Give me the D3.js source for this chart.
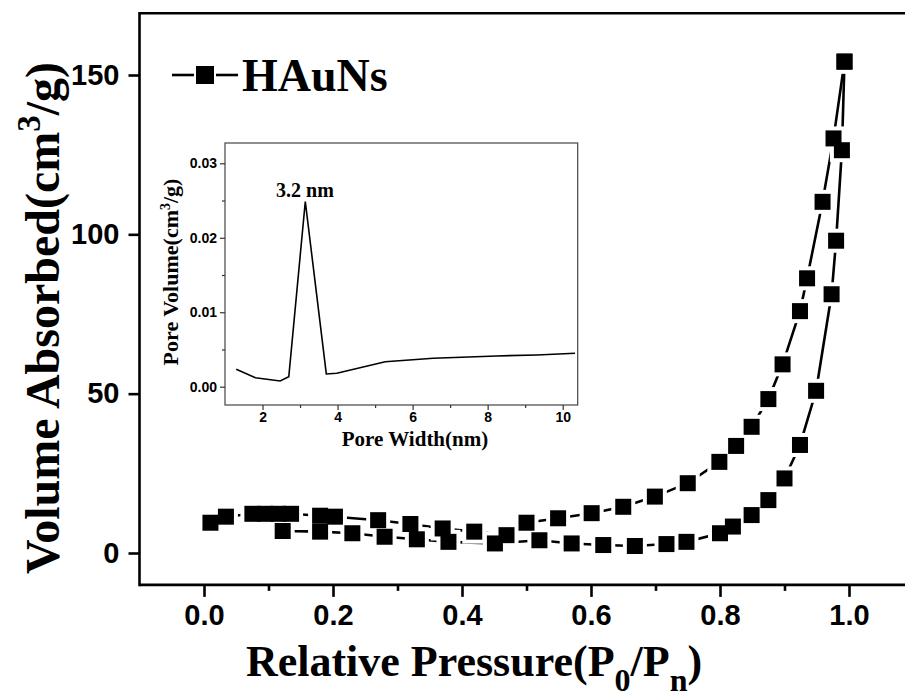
<!DOCTYPE html>
<html><head><meta charset="utf-8">
<script src="https://cdn.jsdelivr.net/npm/d3@7"></script>
<style>body{margin:0;background:#fff}</style>
</head><body>
<svg id="chart" width="905" height="699"></svg>
<script>
// ---------- data ----------
const seriesName = "HAuNs";
// adsorption branch (lower loop)
const adsP = [0.01,0.034,0.075,0.095,0.122,0.18,0.23,0.28,0.33,0.379,0.451,0.52,0.57,0.619,0.668,0.717,0.748,0.80,0.82,0.849,0.875,0.90,0.924,0.949,0.973,0.98,0.989,0.993];
const adsV = [9.5,11.4,12.3,12.3,6.9,6.7,6.2,5.1,4.3,3.5,3.0,4.0,3.0,2.5,2.2,2.8,3.5,6.2,8.3,11.9,16.6,23.4,33.9,50.9,81.2,98.0,126.4,154.2];
// desorption branch (upper loop)
const desP = [0.993,0.976,0.959,0.935,0.924,0.897,0.875,0.849,0.825,0.799,0.75,0.699,0.65,0.601,0.549,0.50,0.469,0.419,0.37,0.32,0.27,0.203,0.18,0.135,0.115];
const desV = [154.2,130.1,110.2,86.2,75.9,59.2,48.3,39.6,33.6,28.6,21.9,17.7,14.5,12.5,10.9,9.5,5.6,6.7,7.7,9.1,10.3,11.4,11.7,12.3,12.3];
const xTicks = [0,0.2,0.4,0.6,0.8,1.0];
const xTickLabels = ["0.0","0.2","0.4","0.6","0.8","1.0"];
const xMinorTicks = [0.1,0.3,0.5,0.7,0.9];
const yTicks = [0,50,100,150];
const yTickLabels = ["0","50","100","150"];
// inset: pore size distribution
const poreW = [1.30,1.81,2.47,2.70,3.14,3.70,3.98,5.27,6.55,8.24,9.31,10.33];
const poreV = [0.00234,0.00121,0.00077,0.00134,0.02487,0.00171,0.0018,0.00336,0.00382,0.00413,0.00426,0.00449];
const insetXTicks = [2,4,6,8,10];
const insetXTickLabels = ["2","4","6","8","10"];
const insetXMinor = [3,5,7,9];
const insetYTicks = [0,0.01,0.02,0.03];
const insetYTickLabels = ["0.00","0.01","0.02","0.03"];
const insetYMinor = [0.005,0.015,0.025];
const peakLabel = "3.2 nm";

// ---------- layout ----------
const svg = d3.select("#chart");
const serif = "'Liberation Serif','Times New Roman',serif";
const sans = "'Liberation Sans',Arial,sans-serif";

const x = d3.scaleLinear().domain([-0.1,1.1]).range([139.5,913.5]);
const y = d3.scaleLinear().domain([0,150]).range([553,75]);
const yTop = y(169.4), yBot = y(-10);
const xL = x(-0.1);

// frame
const frame = svg.append("g").attr("stroke","#000").attr("stroke-width",2.6).attr("fill","none");
frame.append("line").attr("x1",xL).attr("x2",905).attr("y1",yTop).attr("y2",yTop);
frame.append("line").attr("x1",xL).attr("x2",905).attr("y1",yBot).attr("y2",yBot);
frame.append("line").attr("x1",xL).attr("x2",xL).attr("y1",yTop-1.3).attr("y2",yBot+1.3);

// x axis
const xAxis = d3.axisBottom(x).tickValues(xTicks).tickSizeOuter(0).tickSize(12)
  .tickFormat((d,i)=>xTickLabels[i]).tickPadding(8);
const gx = svg.append("g").attr("transform",`translate(0,${yBot})`).call(xAxis);
gx.select(".domain").remove();
gx.selectAll(".tick line").attr("stroke-width",2.6);
gx.selectAll(".tick text").attr("font-family",sans).attr("font-weight","bold").attr("font-size",29).attr("fill","#000");
const xMinor = d3.axisBottom(x).tickValues(xMinorTicks).tickSizeOuter(0).tickSize(6).tickFormat("");
const gxm = svg.append("g").attr("transform",`translate(0,${yBot})`).call(xMinor);
gxm.select(".domain").remove();
gxm.selectAll(".tick line").attr("stroke-width",2.6);

// y axis
const yAxis = d3.axisLeft(y).tickValues(yTicks).tickSizeOuter(0).tickSize(11)
  .tickFormat((d,i)=>yTickLabels[i]).tickPadding(9);
const gy = svg.append("g").attr("transform",`translate(${xL},0)`).call(yAxis);
gy.select(".domain").remove();
gy.selectAll(".tick line").attr("stroke-width",2.6);
gy.selectAll(".tick text").attr("font-family",sans).attr("font-weight","bold").attr("font-size",29).attr("fill","#000");

// axis titles
const xt = svg.append("text").attr("x",474).attr("y",676).attr("text-anchor","middle")
  .attr("font-family",serif).attr("font-weight","bold").attr("font-size",44);
xt.append("tspan").text("Relative Pressure(P");
xt.append("tspan").attr("dy",15).attr("font-size",32).text("0");
xt.append("tspan").attr("dy",-15).text("/P");
xt.append("tspan").attr("dy",15).attr("font-size",32).text("n");
xt.append("tspan").attr("dy",-15).text(")");

const yt = svg.append("text").attr("transform","translate(59,318) rotate(-90)").attr("text-anchor","middle")
  .attr("font-family",serif).attr("font-weight","bold").attr("font-size",48);
yt.append("tspan").text("Volume Absorbed(cm");
yt.append("tspan").attr("dy",-19).attr("font-size",33).text("3");
yt.append("tspan").attr("dy",19).text("/g)");

// series
const ads = adsP.map((p,i)=>[p,adsV[i]]);
const des = desP.map((p,i)=>[p,desV[i]]);
const line = d3.line().x(d=>x(d[0])).y(d=>y(d[1]));
const sz = 16, halo = 24;
[ads,des].forEach(s=>svg.append("path").attr("d",line(s)).attr("fill","none").attr("stroke","#000").attr("stroke-width",2.6));
const all = ads.concat(des);
svg.append("g").selectAll("rect").data(all).join("rect")
  .attr("x",d=>x(d[0])-halo/2).attr("y",d=>y(d[1])-halo/2).attr("width",halo).attr("height",halo).attr("fill","#fff");
svg.append("g").selectAll("rect").data(all).join("rect")
  .attr("x",d=>x(d[0])-sz/2).attr("y",d=>y(d[1])-sz/2).attr("width",sz).attr("height",sz).attr("fill","#000");

// legend
const lg = svg.append("g").attr("transform","translate(0,75)");
lg.append("line").attr("x1",172).attr("x2",194).attr("stroke","#000").attr("stroke-width",2.6);
lg.append("line").attr("x1",216).attr("x2",238).attr("stroke","#000").attr("stroke-width",2.6);
lg.append("rect").attr("x",196).attr("y",-9).attr("width",18).attr("height",18);
lg.append("text").attr("x",242).attr("y",16).attr("font-family",serif).attr("font-weight","bold").attr("font-size",46).text(seriesName);

// ---------- inset ----------
const ix = d3.scaleLinear().domain([1.0,10.4]).range([225,577.7]);
const iy = d3.scaleLinear().domain([0,0.03]).range([386.7,163.3]);
const iT = 143, iB = 405;
svg.append("rect").attr("x",225).attr("y",iT).attr("width",577.7-225).attr("height",iB-iT)
  .attr("fill","none").attr("stroke","#444").attr("stroke-width",1.2);
const igx = svg.append("g").attr("transform",`translate(0,${iB})`)
  .call(d3.axisBottom(ix).tickValues(insetXTicks).tickSize(5).tickSizeOuter(0).tickPadding(2).tickFormat((d,i)=>insetXTickLabels[i]));
igx.select(".domain").remove();
const igxm = svg.append("g").attr("transform",`translate(0,${iB})`)
  .call(d3.axisBottom(ix).tickValues(insetXMinor).tickSize(3).tickSizeOuter(0).tickFormat(""));
igxm.select(".domain").remove();
const igy = svg.append("g").attr("transform",`translate(225,0)`)
  .call(d3.axisLeft(iy).tickValues(insetYTicks).tickSize(5).tickSizeOuter(0).tickPadding(3).tickFormat((d,i)=>insetYTickLabels[i]));
igy.select(".domain").remove();
const igym = svg.append("g").attr("transform",`translate(225,0)`)
  .call(d3.axisLeft(iy).tickValues(insetYMinor).tickSize(3).tickSizeOuter(0).tickFormat(""));
igym.select(".domain").remove();
[igx,igxm,igy,igym].forEach(g=>{
  g.selectAll(".tick line").attr("stroke","#333").attr("stroke-width",1.2);
  g.selectAll(".tick text").attr("font-family",sans).attr("font-weight","bold").attr("font-size",14).attr("fill","#000");
});
svg.append("path").attr("d",d3.line().x((d,i)=>ix(poreW[i])).y((d,i)=>iy(poreV[i]))(poreW))
  .attr("fill","none").attr("stroke","#000").attr("stroke-width",1.6);
svg.append("text").attr("x",305).attr("y",197).attr("text-anchor","middle")
  .attr("font-family",serif).attr("font-weight","bold").attr("font-size",20).text(peakLabel);
svg.append("text").attr("x",415).attr("y",446).attr("text-anchor","middle")
  .attr("font-family",serif).attr("font-weight","bold").attr("font-size",21).text("Pore Width(nm)");
const iyt = svg.append("text").attr("transform","translate(178,272) rotate(-90)").attr("text-anchor","middle")
  .attr("font-family",serif).attr("font-weight","bold").attr("font-size",22);
iyt.append("tspan").text("Pore Volume(cm");
iyt.append("tspan").attr("dy",-8).attr("font-size",14).text("3");
iyt.append("tspan").attr("dy",8).text("/g)");
</script>
</body></html>
